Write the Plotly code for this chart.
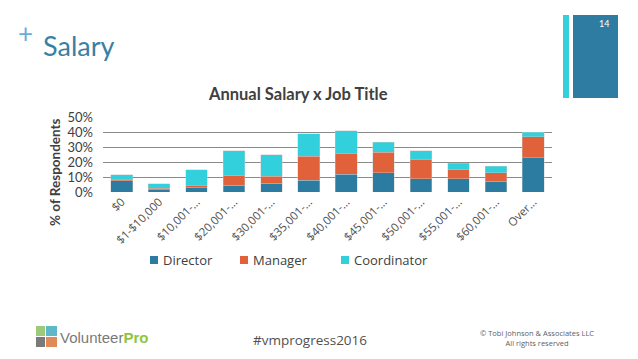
import plotly.graph_objects as go

categories = ["$0", "$1-$10,000", "$10,001-…", "$20,001-…", "$30,001-…", "$35,001-…",
              "$40,001-…", "$45,001-…", "$50,001-…", "$55,001-…", "$60,001-…", "Over…"]
director = [7.5, 1.5, 2.7, 4.4, 6.0, 7.8, 11.8, 12.9, 8.7, 8.7, 7.1, 22.9]
manager = [1.0, 1.0, 1.7, 6.5, 4.4, 16.0, 13.8, 13.5, 13.3, 6.2, 5.6, 14.0]
coordinator = [3.0, 3.0, 10.6, 16.6, 14.6, 15.2, 15.3, 6.9, 5.5, 4.4, 4.4, 3.1]
y_ticks = [0, 10, 20, 30, 40, 50]
series_names = ["Director", "Manager", "Coordinator"]
series_colors = ["#2c7ba0", "#e0613a", "#31d0dc"]

OFF = 8  # browser body margin
W, H = 638 - OFF, 359 - OFF
L, R, T, B = 103, 552, 117, 192


def px(x):
    return (x - L) / (R - L)


def py(y):
    return (B - y) / (B - T)


fig = go.Figure()
for name, vals, col in zip(series_names, [director, manager, coordinator], series_colors):
    fig.add_trace(go.Bar(x=categories, y=vals, name=name, marker_color=col,
                         marker_line=dict(color="rgba(200,200,200,0.7)", width=0.6)))

fig.update_layout(
    width=W, height=H, barmode="stack", bargap=0.42,
    margin=dict(l=L - OFF, r=638 - R, t=T - OFF, b=359 - B, autoexpand=False),
    paper_bgcolor="white", plot_bgcolor="white",
    font=dict(family="Lato", color="#404040"),
    showlegend=False,
)
fig.update_yaxes(range=[0, 50], tickvals=y_ticks, ticktext=[f"{v}%" for v in y_ticks],
                 showgrid=True, gridcolor="#8a8a8a", gridwidth=1, zeroline=False,
                 tickfont=dict(family="Lato", size=13, color="#404040"),
                 ticklabelstandoff=9, automargin=False, fixedrange=True)
fig.update_xaxes(tickangle=-45, tickfont=dict(family="Open Sans", size=11.5, color="#505050"),
                 showgrid=False, automargin=False, showline=False)


def rect(x0, x1, y0, y1, color, layer="above"):
    return dict(type="rect", xref="paper", yref="paper", x0=px(x0), x1=px(x1),
                y0=py(y1), y1=py(y0), fillcolor=color, line_width=0, layer=layer)


shapes = [
    rect(563, 569, 15, 98, "#35d0dc"),
    rect(573, 618, 15, 98, "#2e7ca2"),
    # logo icon
    rect(36, 45, 326, 336, "#9cc97a"),
    rect(46, 57, 326, 336, "#5fb8c8"),
    rect(36, 45, 337, 347, "#7a7a7a"),
    rect(46, 57, 337, 347, "#e08a5a"),
]

ann = [
    dict(text="+", x=px(25), y=py(33), font=dict(family="Lato", size=26, color="#6aaed4"),
         xanchor="center", yanchor="middle"),
    dict(text="Salary", x=px(41), y=py(46), font=dict(family="Lato", size=27, color="#3a7fa4"),
         xanchor="left", yanchor="middle"),
    dict(text="14", x=px(611), y=py(24), font=dict(family="Lato", size=9, color="white"),
         xanchor="right", yanchor="middle"),
    dict(text="<b>Annual Salary x Job Title</b>", x=px(298), y=py(94),
         font=dict(family="Lato", size=16.5, color="#404040"), xanchor="center", yanchor="middle"),
    dict(text="<b>% of Respondents</b>", x=px(55), y=py(172), textangle=-90,
         font=dict(family="Lato", size=13.5, color="#404040"), xanchor="center", yanchor="middle"),
    dict(text="<span style='color:#7a7a7a'>Volunteer</span><b><span style='color:#8cc63f'>Pro</span></b>",
         x=px(58), y=py(337), font=dict(family="Liberation Sans", size=15),
         xanchor="left", yanchor="middle"),
    dict(text="#vmprogress2016", x=px(310), y=py(340),
         font=dict(family="Open Sans", size=13.5, color="#505050"), xanchor="center", yanchor="middle"),
    dict(text="© Tobi Johnson &amp; Associates LLC<br>All rights reserved", x=px(537), y=py(338),
         font=dict(family="Open Sans", size=7.5, color="#606060"), xanchor="center", yanchor="middle",
         align="center"),
]

# legend (drawn as squares + labels)
legend_x = [150, 240, 341]
for name, col, lx in zip(series_names, series_colors, legend_x):
    shapes.append(rect(lx, lx + 8, 256, 264, col))
    ann.append(dict(text=name, x=px(lx + 11), y=py(260),
                    font=dict(family="Open Sans", size=13, color="#404040"),
                    xanchor="left", yanchor="middle"))

for a in ann:
    a.update(xref="paper", yref="paper", showarrow=False)
fig.update_layout(shapes=shapes, annotations=ann)

fig.write_html("out.html")
